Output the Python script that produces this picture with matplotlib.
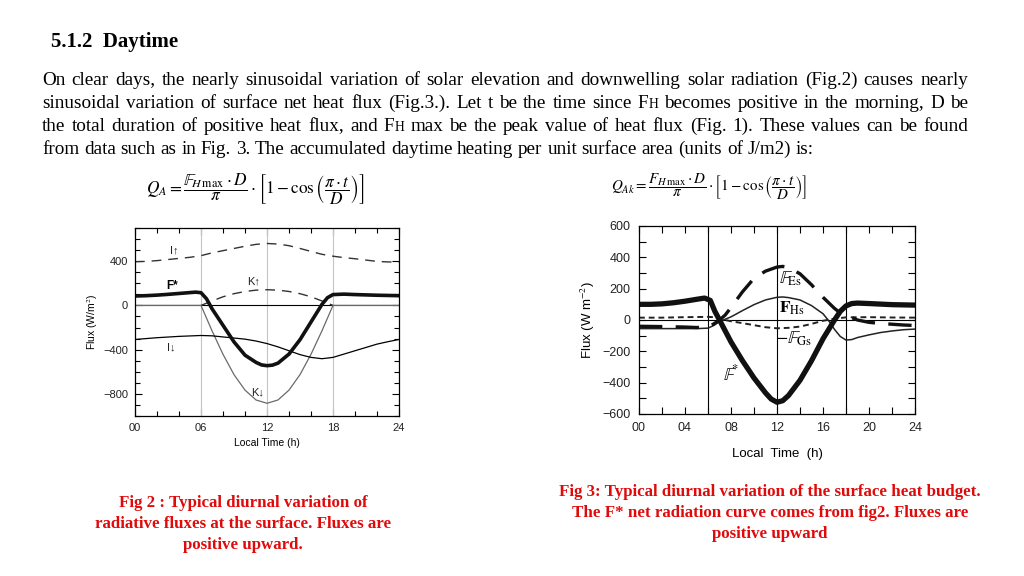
import matplotlib
matplotlib.use("Agg")
from matplotlib import pyplot as plt
from matplotlib.ticker import MultipleLocator
import numpy as np

plt.rcParams['mathtext.fontset'] = 'stix'

# ---- Fig 2 data (radiative fluxes, W/m2, positive upward)
i_up_t = [0, 1, 2, 3, 4, 5, 6, 7, 8, 9, 10, 11, 12, 13, 14, 15, 16, 17, 18, 19, 20, 21, 22, 23, 24]
i_up = [395, 398, 405, 415, 425, 435, 450, 475, 495, 515, 535, 552, 560, 555, 540, 515, 488, 462, 445, 432, 422, 410, 398, 393, 393]

k_up_t = [6, 7, 8, 9, 10, 11, 12, 13, 14, 15, 16, 17, 18]
k_up = [0, 40, 78, 106, 126, 138, 142, 138, 126, 106, 78, 40, 0]

k_dn_t = [0, 6, 7, 8, 9, 10, 11, 12, 13, 14, 15, 16, 17, 18, 24]
k_dn = [0, 0, -229, -442, -626, -766, -855, -885, -855, -766, -626, -442, -229, 0, 0]

i_dn_t = [0, 2, 4, 6, 7, 8, 9, 10, 11, 12, 13, 14, 15, 16, 17, 18, 19, 20, 21, 22, 23, 24]
i_dn = [-308, -292, -280, -272, -275, -285, -295, -305, -322, -345, -375, -410, -445, -470, -482, -470, -440, -410, -380, -350, -328, -308]

fs_t = [0, 1, 2, 3, 4, 5, 5.5, 6, 6.5, 7, 8, 9, 10, 11, 11.5, 12, 12.5, 13, 14, 15, 16, 17, 17.5, 18, 19, 20, 21, 22, 23, 24]
fs = [85, 88, 93, 100, 108, 116, 120, 115, 60, -30, -180, -330, -450, -515, -538, -545, -540, -522, -440, -310, -150, 10, 70, 98, 102, 98, 95, 92, 90, 88]

# ---- Fig 3 data (surface heat budget, W/m2)
f3_star_t = [0, 1, 2, 3, 4, 5, 5.7, 6.2, 6.6, 7, 8, 9, 10, 11, 11.5, 12, 12.5, 13, 14, 15, 16, 17, 17.5, 18, 18.5, 19, 20, 22, 24]
f3_star = [100, 100, 103, 110, 120, 132, 140, 125, 55, 0, -140, -260, -370, -465, -505, -525, -515, -482, -385, -260, -120, 0, 55, 90, 105, 108, 105, 98, 95]

f_es_t = [0, 2, 4, 5, 6, 6.5, 7, 7.5, 8, 9, 10, 11, 12, 12.5, 13, 14, 15, 16, 17, 17.5, 18, 18.5, 19, 20, 21, 22, 23, 24]
f_es = [-40, -42, -45, -48, -45, -25, 0, 32, 80, 180, 266, 312, 338, 342, 335, 295, 225, 145, 74, 45, 25, 15, 0, -15, -22, -27, -32, -35]

f_hs_t = [0, 2, 4, 5, 6, 6.5, 7, 8, 9, 10, 11, 12, 12.5, 13, 14, 15, 16, 16.5, 17, 17.5, 18, 18.5, 19, 20, 21, 22, 23, 24]
f_hs = [-55, -55, -55, -55, -52, -35, -10, 20, 60, 98, 128, 145, 147, 143, 128, 92, 40, -5, -60, -105, -128, -125, -112, -95, -80, -70, -62, -58]

f_gs_t = [0, 2, 4, 6, 6.5, 7, 8, 9, 10, 11, 12, 13, 14, 15, 16, 17, 18, 20, 22, 24]
f_gs = [15, 15, 18, 20, 18, 8, -8, -20, -33, -46, -53, -50, -42, -25, -5, 8, 17, 18, 16, 15]

para_lines = [
    "On clear days, the nearly sinusoidal variation of solar elevation and downwelling solar radiation (Fig.2) causes nearly",
    "sinusoidal variation of surface net heat flux (Fig.3.). Let t be the time since FH becomes positive in the morning, D be",
    "the total duration of positive heat flux, and FH max be the peak value of heat flux (Fig. 1). These values can be found",
    "from data such as in Fig. 3. The accumulated daytime heating per unit surface area (units of J/m2) is:",
]
cap2 = ["Fig 2 : Typical diurnal variation of", "radiative fluxes at the surface. Fluxes are", "positive upward."]
cap3 = ["Fig 3: Typical diurnal variation of the surface heat budget.", "The F* net radiation curve comes from fig2. Fluxes are", "positive upward"]

W, H = 1024, 576
fig = plt.figure(figsize=(W / 100, H / 100), dpi=100)
renderer = fig.canvas.get_renderer()
SERIF = ['Liberation Serif', 'DejaVu Serif']
SANS = ['Liberation Sans', 'DejaVu Sans']
RED = '#E00A0A'


def px(x, y):
    return x / W, 1 - y / H


def text_line(line, y, x0, x1, justify, size=13.8):
    # place words one by one so the line is justified like the slide
    words = line.split(' ')
    pieces = []
    for w in words:
        if w == 'FH':
            parts = [('F', size), ('H', size * 0.72)]
        else:
            parts = [(w, size)]
        items = []
        for s, sz in parts:
            t = fig.text(0, 0, s, fontsize=sz, family=SERIF, va='baseline')
            wd = t.get_window_extent(renderer).width
            items.append((t, wd))
        pieces.append(items)
    total = sum(wd for items in pieces for _, wd in items)
    sp = fig.text(0, 0, 'a a', fontsize=size, family=SERIF)
    sp_w = sp.get_window_extent(renderer).width
    sp2 = fig.text(0, 0, 'aa', fontsize=size, family=SERIF)
    sp_w -= sp2.get_window_extent(renderer).width
    sp.remove(); sp2.remove()
    gap = (x1 - x0 - total) / (len(pieces) - 1) if justify else sp_w
    x = x0
    for items in pieces:
        for t, wd in items:
            t.set_position(px(x, y))
            x += wd
        x += gap


# heading and paragraph
fig.text(*px(51, 47), "5.1.2  Daytime", fontsize=15, fontweight='bold', family=SERIF, va='baseline')
for i, line in enumerate(para_lines):
    text_line(line, 85 + 23 * i, 42, 968, i < 3)

# formulas
fig.text(*px(256, 189), r"$Q_A = \dfrac{\mathbb{F}_{H\,\max}\cdot D}{\pi}\cdot\left[1-\cos\left(\dfrac{\pi\cdot t}{D}\right)\right]$",
         fontsize=12.4, ha='center', va='center')
fig.text(*px(709, 187), r"$Q_{Ak} = \dfrac{F_{H\,\max}\cdot D}{\pi}\cdot\left[1-\cos\left(\dfrac{\pi\cdot t}{D}\right)\right]$",
         fontsize=10.8, ha='center', va='center')

# ---- Fig 2 axes
ax1 = fig.add_axes([135 / W, 1 - 416 / H, 264 / W, 188 / H])
ax1.axvline(6, color='#c4c4c4', lw=0.8)
ax1.axvline(12, color='#c4c4c4', lw=0.8)
ax1.axvline(18, color='#c4c4c4', lw=0.8)
ax1.axhline(0, color='black', lw=0.8)
ax1.plot(i_up_t, i_up, color='#333333', lw=1.0, dashes=(7, 5))
ax1.plot(k_up_t, k_up, color='#333333', lw=1.0, dashes=(7, 5))
ax1.plot(k_dn_t, k_dn, color='#6a6a6a', lw=0.9)
ax1.plot(i_dn_t, i_dn, color='black', lw=0.9)
ax1.plot(fs_t, fs, color='#111111', lw=2.6)
ax1.set_xlim(0, 24)
ax1.set_ylim(-1000, 700)
ax1.set_xticks([0, 6, 12, 18, 24])
ax1.set_xticklabels(['00', '06', '12', '18', '24'])
ax1.xaxis.set_minor_locator(MultipleLocator(2))
ax1.set_yticks([-800, -400, 0, 400])
ax1.set_yticklabels(['\u2212800', '\u2212400', '0', '400'])
ax1.yaxis.set_minor_locator(MultipleLocator(100))
ax1.tick_params(which='both', direction='in', top=True, right=True, labelsize=8, width=0.8, pad=5)
ax1.tick_params(which='major', length=5)
ax1.tick_params(which='minor', length=3.5)
for lab in ax1.get_xticklabels() + ax1.get_yticklabels():
    lab.set_family(SANS)
    lab.set_color('#222222')
ax1.set_xlabel("Local Time (h)", fontsize=7.5, family=SANS, labelpad=4)
ax1.set_ylabel("Flux (W/m$^2$)", fontsize=7.5, family=SANS, labelpad=2)
for s in ax1.spines.values():
    s.set_linewidth(0.9)
lab_kw = dict(fontsize=8, family=SANS, va='center', color='#222222')
ax1.text(3.2, 494, "I\u2191", **lab_kw)
ax1.text(2.8, 173, "F*", fontsize=8.5, family=SANS, va='center', fontweight='bold')
ax1.text(10.2, 212, "K\u2191", **lab_kw)
ax1.text(2.9, -379, "I\u2193", **lab_kw)
ax1.text(10.6, -788, "K\u2193", **lab_kw)

# ---- Fig 3 axes
ax2 = fig.add_axes([639 / W, 1 - 414 / H, 276 / W, 188 / H])
ax2.axvline(6, color='black', lw=0.8)
ax2.axvline(12, color='black', lw=0.8)
ax2.axvline(18, color='black', lw=0.8)
ax2.axhline(0, color='black', lw=0.8)
ax2.plot(f_gs_t, f_gs, color='#222222', lw=1.4, dashes=(3, 2))
ax2.plot(f_hs_t, f_hs, color='#222222', lw=1.1)
ax2.plot(f_es_t, f_es, color='#111111', lw=2.4, dashes=(7, 4))
ax2.plot(f3_star_t, f3_star, color='#111111', lw=3.8)
ax2.set_xlim(0, 24)
ax2.set_ylim(-600, 600)
ax2.set_xticks([0, 4, 8, 12, 16, 20, 24])
ax2.set_xticklabels(['00', '04', '08', '12', '16', '20', '24'])
ax2.xaxis.set_minor_locator(MultipleLocator(2))
ax2.set_yticks([-600, -400, -200, 0, 200, 400, 600])
ax2.set_yticklabels(['\u2212600', '\u2212400', '\u2212200', '0', '200', '400', '600'])
ax2.yaxis.set_minor_locator(MultipleLocator(100))
ax2.tick_params(which='both', direction='in', top=True, right=True, labelsize=9, width=0.8, pad=6)
ax2.tick_params(which='major', length=5)
ax2.tick_params(which='minor', length=5)
for lab in ax2.get_xticklabels() + ax2.get_yticklabels():
    lab.set_family(SANS)
    lab.set_color('#222222')
ax2.set_xlabel("Local  Time  (h)", fontsize=9.5, family=SANS, labelpad=10)
ax2.set_ylabel("Flux (W m$^{-2}$)", fontsize=9.5, family=SANS, labelpad=4)
for s in ax2.spines.values():
    s.set_linewidth(0.9)
ax2.text(12.2, 262, r"$\mathbb{F}_{\mathrm{Es}}$", fontsize=13, va='center')
ax2.text(12.2, 75, r"$\mathbf{F}_{\mathrm{Hs}}$", fontsize=12.5, va='center')
ax2.text(11.8, -117, r"$-\mathbb{F}_{\mathrm{Gs}}$", fontsize=13, va='center')
ax2.text(7.3, -350, r"$\mathbb{F}^{*}$", fontsize=13, va='center')

# captions
for i, line in enumerate(cap2):
    fig.text(*px(243, 503 + 21 * i), line, fontsize=12.2, fontweight='bold', family=SERIF,
             color=RED, ha='center', va='center')
for i, line in enumerate(cap3):
    fig.text(*px(770, 492 + 21 * i), line, fontsize=12.2, fontweight='bold', family=SERIF,
             color=RED, ha='center', va='center')

fig.savefig("out.png", dpi=100)
